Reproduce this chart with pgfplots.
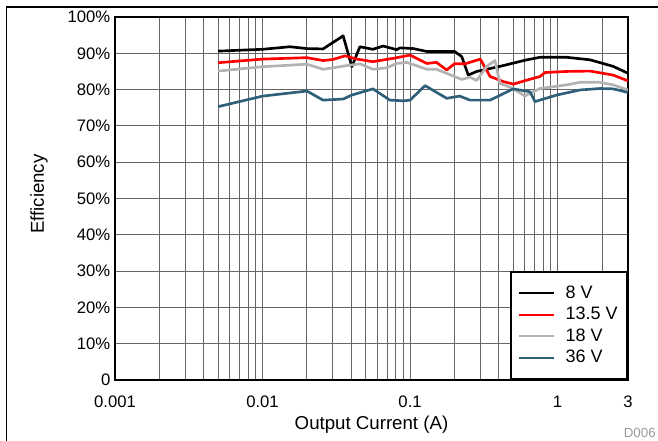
\documentclass[border=0pt]{standalone}
\usepackage{fontspec}
\setmainfont{Liberation Sans}
\usepackage{pgfplots}
\pgfplotsset{compat=1.18}
\definecolor{cteal}{RGB}{47,96,122}
\definecolor{cgray}{RGB}{178,178,178}
\begin{document}
\begin{tikzpicture}
\useasboundingbox (0pt,0pt) rectangle (493.5pt,330.75pt);
\draw[line width=0.8pt] (4.9pt,0pt) -- (4.9pt,325.5pt) -- (493.5pt,325.5pt);
\begin{axis}[
  at={(86.25pt,45.75pt)}, anchor=south west,
  scale only axis, width=384.75pt, height=272.25pt,
  xmode=log, xmin=0.001, xmax=3, ymin=0, ymax=100,
  xtick={0.001,0.01,0.1,1,3},
  xticklabels={0.001,0.01,0.1,1,3},
  minor xtick={0.002,0.003,0.004,0.005,0.006,0.007,0.008,0.009,0.02,0.03,0.04,0.05,0.06,0.07,0.08,0.09,0.2,0.3,0.4,0.5,0.6,0.7,0.8,0.9,2},
  ytick={0,10,...,100},
  yticklabels={0,10\%,20\%,30\%,40\%,50\%,60\%,70\%,80\%,90\%,100\%},
  xmajorgrids, xminorgrids, ymajorgrids,
  major grid style={black!60, line width=0.75pt},
  minor grid style={black!60, line width=0.75pt},
  tick style={draw=none},
  axis line style={line width=1.5pt},
  ticklabel style={font=\fontsize{12.5}{14}\selectfont},
  xticklabel style={anchor=base, yshift=-21pt},
  label style={font=\fontsize{14}{16}\selectfont},
  xlabel={Output Current (A)}, ylabel={Efficiency},
  xlabel style={at={(axis description cs:0.5,0)}, anchor=base, yshift=-37.5pt},
  ylabel style={at={(axis description cs:-0.148,0.512)}, anchor=center},
  legend style={at={(1,0)}, anchor=south east, draw=black, line width=1.5pt,
    font=\fontsize{13.5}{15}\selectfont, cells={anchor=west}, row sep=1.2pt,
    column sep=6pt,
    inner xsep=5pt, inner ysep=8.5pt, fill=white},
  legend image code/.code={\draw[#1, line width=1.6pt] (0pt,0pt) -- (26pt,0pt);},
  every axis plot/.append style={line width=2pt, line join=round},
]
\addplot[black] coordinates {
(0.005,90.6) (0.01,91.1) (0.0153,91.8) (0.02,91.3) (0.0257,91.2) (0.0352,94.8)
(0.0403,86.3) (0.0457,91.8) (0.056,91.1) (0.0657,92.0) (0.081,91.0) (0.0855,91.5)
(0.105,91.3) (0.13,90.5) (0.2,90.5) (0.224,89.1) (0.248,84.0) (0.283,85.0)
(0.407,86.4) (0.618,88.2) (0.76,88.9) (1.15,88.9) (1.66,88.2) (2.38,86.4) (3,84.5)};
\addlegendentry{8 V}
\addplot[red] coordinates {
(0.005,87.4) (0.01,88.4) (0.02,88.8) (0.0257,88.0) (0.03,88.3) (0.0363,89.3)
(0.0435,88.4) (0.056,87.7) (0.0767,88.6) (0.1,89.5) (0.13,87.2) (0.151,87.5)
(0.177,85.4) (0.2,87.1) (0.236,87.1) (0.299,88.4) (0.349,83.6) (0.429,82.2)
(0.501,81.5) (0.618,82.6) (0.76,83.6) (0.822,84.7) (1.15,85.0) (1.66,85.1)
(2.38,84.0) (3,82.4)};
\addlegendentry{13.5 V}
\addplot[cgray] coordinates {
(0.005,85.1) (0.01,86.3) (0.02,87.0) (0.0257,85.6) (0.03,86.0) (0.037,86.6)
(0.0457,87.1) (0.056,85.6) (0.0695,86.0) (0.081,87.2) (0.095,87.5) (0.13,85.6)
(0.151,85.6) (0.224,82.8) (0.255,83.4) (0.283,82.5) (0.331,86.4) (0.376,88.0)
(0.407,81.7) (0.5,80.3) (0.6,78.2) (0.65,79.0) (0.76,80.3) (1.15,81.3)
(1.42,82.0) (1.94,82.0) (2.38,81.3) (3,79.9)};
\addlegendentry{18 V}
\addplot[cteal] coordinates {
(0.005,75.3) (0.01,78.2) (0.02,79.6) (0.0257,77.1) (0.0352,77.4) (0.0403,78.5)
(0.056,80.2) (0.073,77.1) (0.09,76.9) (0.1,77.1) (0.1264,81.1) (0.177,77.6)
(0.217,78.2) (0.255,77.1) (0.349,77.1) (0.5,80.2) (0.65,79.4) (0.703,76.7)
(0.987,78.5) (1.42,79.9) (1.94,80.3) (2.38,80.2) (3,79.2)};
\addlegendentry{36 V}
\end{axis}
\node[anchor=south east, text=black!40, font=\fontsize{10}{12}\selectfont, inner sep=0pt] at (492pt,2.25pt) {D006};
\end{tikzpicture}
\end{document}
